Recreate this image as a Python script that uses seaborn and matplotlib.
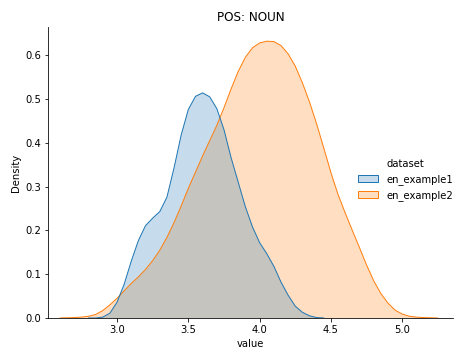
import numpy as np
import pandas as pd
import seaborn as sns
import matplotlib
matplotlib.use("Agg")
import matplotlib.pyplot as plt
from matplotlib.patches import Patch

# density curves (value -> density)
example1_value = [2.80, 2.85, 2.90, 2.95, 3.00, 3.05, 3.10, 3.15, 3.20, 3.25,
                  3.30, 3.35, 3.40, 3.45, 3.50, 3.55, 3.60, 3.65, 3.70, 3.75,
                  3.80, 3.85, 3.90, 3.95, 4.00, 4.05, 4.10, 4.15, 4.20, 4.25,
                  4.30, 4.35, 4.40, 4.45]
example1_density = [0.0, 0.0, 0.002, 0.011, 0.036, 0.077, 0.13, 0.177, 0.211, 0.228,
                    0.243, 0.276, 0.343, 0.418, 0.476, 0.506, 0.514, 0.505, 0.478, 0.43,
                    0.366, 0.31, 0.254, 0.208, 0.172, 0.147, 0.118, 0.082, 0.052, 0.027,
                    0.013, 0.005, 0.001, 0.0]

example2_value = [2.60, 2.65, 2.70, 2.75, 2.80, 2.85, 2.90, 2.95, 3.00, 3.05,
                  3.10, 3.15, 3.20, 3.25, 3.30, 3.35, 3.40, 3.45, 3.50, 3.55,
                  3.60, 3.65, 3.70, 3.75, 3.80, 3.85, 3.90, 3.95, 4.00, 4.05,
                  4.10, 4.15, 4.20, 4.25, 4.30, 4.35, 4.40, 4.45, 4.50, 4.55,
                  4.60, 4.65, 4.70, 4.75, 4.80, 4.85, 4.90, 4.95, 5.00, 5.05,
                  5.10, 5.15, 5.20, 5.25]
example2_density = [0.0, 0.0005, 0.001, 0.002, 0.004, 0.008, 0.017, 0.03, 0.045, 0.062,
                    0.079, 0.094, 0.111, 0.131, 0.155, 0.184, 0.218, 0.256, 0.296, 0.333,
                    0.37, 0.405, 0.44, 0.48, 0.523, 0.563, 0.595, 0.617, 0.628, 0.632,
                    0.631, 0.622, 0.603, 0.575, 0.537, 0.493, 0.443, 0.388, 0.332, 0.282,
                    0.24, 0.2, 0.161, 0.121, 0.085, 0.056, 0.034, 0.018, 0.009, 0.004,
                    0.002, 0.001, 0.0005, 0.0]

datasets = ["en_example1", "en_example2"]
colors = {"en_example1": "#1f77b4", "en_example2": "#ff7f0e"}

df = pd.concat([
    pd.DataFrame({"value": example1_value, "density": example1_density, "dataset": "en_example1"}),
    pd.DataFrame({"value": example2_value, "density": example2_density, "dataset": "en_example2"}),
], ignore_index=True)

fig = plt.figure(figsize=(462 / 72, 360 / 72), dpi=72)
ax = fig.add_axes([48 / 462, 1 - 318 / 360, (452.7 - 48) / 462, (318 - 27.3) / 360])

# seaborn draws the hue levels in reverse, so example2 goes underneath
for name in reversed(datasets):
    sub = df[df["dataset"] == name]
    ax.fill_between(sub["value"], 0, sub["density"],
                    facecolor=matplotlib.colors.to_rgba(colors[name], 0.25), linewidth=0)
    sns.lineplot(data=sub, x="value", y="density", color=colors[name],
                 linewidth=1, estimator=None, ax=ax)

ax.set_xlim(2.516, 5.354)
ax.set_ylim(0, 0.6637)
ax.set_xlabel("value")
ax.set_ylabel("Density")
ax.set_title("POS: NOUN", fontsize=12)
sns.despine(ax=ax)

handles = [Patch(facecolor=matplotlib.colors.to_rgba(colors[n], 0.25), edgecolor=colors[n])
           for n in datasets]
fig.legend(handles, datasets, title="dataset", loc="center right",
           bbox_to_anchor=(1.0, 0.5), frameon=False, title_fontsize=10)

fig.savefig("out.png", dpi=72)
